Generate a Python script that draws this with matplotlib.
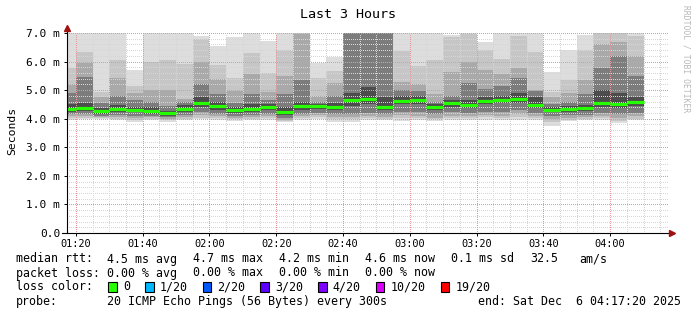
import matplotlib
matplotlib.use("Agg")
import matplotlib.pyplot as plt
import matplotlib.patches as patches
import numpy as np

W, H = 697, 315
MONO = "DejaVu Sans Mono"

# 5-minute steps, end time of each step in minutes after midnight (01:20 .. 04:10)
t_end = np.arange(80, 255, 5)
view_start, view_end = 77 + 20 / 60, 257 + 20 / 60   # 01:17:20 .. 04:17:20

median = [4.35, 4.38, 4.28, 4.35, 4.32, 4.28, 4.19, 4.35, 4.56, 4.43, 4.30, 4.35,
          4.40, 4.22, 4.43, 4.44, 4.40, 4.64, 4.68, 4.40, 4.63, 4.65, 4.40, 4.54,
          4.49, 4.61, 4.67, 4.70, 4.47, 4.32, 4.35, 4.37, 4.55, 4.50, 4.57]

# smoke bands (outer -> inner), upper and lower edge per step, in ms
u1 = [7.0, 7.0, 7.0, 7.0, 5.7, 7.0, 7.0, 7.0, 6.88, 6.53, 6.85, 7.0, 6.73, 7.0, 7.0, 5.94,
      6.17, 7.0, 7.0, 7.0, 7.0, 7.0, 7.0, 6.93, 7.0, 6.7, 7.0, 7.0, 7.0, 5.65, 6.4, 6.93,
      7.0, 7.0, 7.0]
u2 = [5.78, 6.35, 4.95, 6.07, 5.14, 6.0, 6.05, 5.9, 6.8, 5.88, 5.42, 6.3, 5.6, 6.42, 7.0,
      5.42, 5.66, 7.0, 7.0, 7.0, 6.37, 5.85, 6.05, 6.85, 6.95, 6.4, 6.1, 6.9, 6.35, 4.95,
      5.35, 6.4, 7.0, 7.0, 6.9]
u3 = [5.2, 5.95, 4.75, 5.42, 4.9, 5.0, 5.0, 4.7, 6.0, 5.4, 4.96, 5.55, 4.95, 5.48, 6.95,
      4.8, 5.25, 7.0, 7.0, 7.0, 5.3, 5.2, 4.85, 5.65, 6.0, 5.7, 5.55, 5.78, 5.0, 4.75, 4.9,
      5.35, 6.6, 6.7, 6.2]
u4 = [4.9, 5.45, 4.55, 4.8, 4.67, 4.6, 4.45, 4.6, 5.2, 4.85, 4.55, 4.85, 4.65, 4.85, 5.35,
      4.6, 4.78, 7.0, 7.0, 7.0, 5.0, 4.97, 4.6, 4.8, 5.25, 5.05, 5.15, 5.42, 4.98, 4.5,
      4.6, 4.85, 5.78, 6.2, 5.5]
u5 = [4.5, 4.55, 4.38, 4.47, 4.42, 4.4, 4.28, 4.47, 4.75, 4.6, 4.42, 4.5, 4.5, 4.4, 4.58,
      4.5, 4.55, 4.9, 5.1, 4.75, 4.8, 4.8, 4.5, 4.65, 4.65, 4.75, 4.8, 4.9, 4.75, 4.4, 4.45,
      4.48, 5.0, 4.9, 4.75]
l5 = [4.25, 4.27, 4.18, 4.24, 4.22, 4.18, 4.10, 4.25, 4.42, 4.32, 4.2, 4.24, 4.3, 4.12,
      4.32, 4.34, 4.3, 4.45, 4.5, 4.3, 4.5, 4.52, 4.3, 4.42, 4.38, 4.5, 4.55, 4.55, 4.36,
      4.22, 4.25, 4.27, 4.42, 4.38, 4.45]
l4 = [4.15, 4.15, 4.1, 4.12, 4.1, 4.1, 4.05, 4.12, 4.25, 4.18, 4.1, 4.12, 4.15, 4.02, 4.18,
      4.2, 4.15, 4.15, 4.2, 4.15, 4.25, 4.22, 4.15, 4.22, 4.2, 4.25, 4.25, 4.3, 4.2, 4.08,
      4.12, 4.12, 4.2, 4.15, 4.2]
l3 = [4.08, 4.08, 4.06, 4.05, 4.02, 4.05, 4.0, 4.06, 4.12, 4.1, 4.04, 4.05, 4.08, 3.97,
      4.1, 4.12, 4.05, 4.05, 4.1, 4.06, 4.12, 4.1, 4.04, 4.1, 4.08, 4.12, 4.1, 4.15, 4.1,
      3.98, 4.03, 4.05, 4.08, 4.02, 4.08]
l2 = [4.03, 4.02, 4.03, 4.0, 3.96, 4.0, 3.95, 4.0, 4.04, 4.03, 3.98, 4.0, 4.02, 3.93, 4.03,
      4.05, 3.98, 3.98, 4.03, 4.0, 4.02, 4.03, 3.98, 4.02, 4.02, 4.05, 4.02, 4.05, 4.03,
      3.88, 3.97, 4.0, 4.02, 3.93, 4.0]
l1 = [3.97, 3.98, 4.0, 3.96, 3.9, 3.95, 3.9, 3.95, 3.98, 3.97, 3.93, 3.94, 3.95, 3.87,
      3.97, 4.0, 3.9, 3.88, 3.95, 3.96, 3.93, 3.96, 3.92, 3.95, 3.95, 3.97, 3.94, 3.96,
      3.97, 3.76, 3.92, 3.95, 3.95, 3.85, 3.95]
band_colors = ["#dddddd", "#c6c6c6", "#a9a9a9", "#7c7c7c", "#4c4c4c"]

ytick_labels = ["0.0", "1.0 m", "2.0 m", "3.0 m", "4.0 m", "5.0 m", "6.0 m", "7.0 m"]
xtick_minutes = [80, 100, 120, 140, 160, 180, 200, 220, 240]
xtick_labels = ["01:20", "01:40", "02:00", "02:20", "02:40", "03:00", "03:20", "03:40", "04:00"]

stat_names = ["avg", "max", "min", "now"]
rtt_vals = [4.5, 4.7, 4.2, 4.6]
loss_vals = [0.00, 0.00, 0.00, 0.00]
rtt_sd = 0.1
am_s = 32.5
loss_labels = ["0", "1/20", "2/20", "3/20", "4/20", "10/20", "19/20"]
loss_colors = ["#26ff00", "#00b8ff", "#0059ff", "#5e00ff", "#7e00ff", "#dd00ff", "#ff0000"]
median_color = "#26ff00"


def fx(px):
    return px / W


def fy(py):
    return 1 - py / H


fig = plt.figure(figsize=(W / 100, H / 100), dpi=100)
ax = fig.add_axes([fx(67), fy(233), (668 - 67) / W, 200 / H])
ax.set_xlim(view_start, view_end)
ax.set_ylim(0, 7)
for s in ax.spines.values():
    s.set_visible(False)

# smoke
uppers = [u1, u2, u3, u4, u5]
lowers = [l1, l2, l3, l4, l5]
for lo, hi, col in zip(lowers, uppers, band_colors):
    lo = np.array(lo)
    hi = np.array(hi)
    ax.bar(t_end - 5, hi - lo, bottom=lo, width=5, align="edge", color=col,
           linewidth=0, antialiased=False, zorder=1)

# dotted grid, drawn over the smoke
minor_c, major_c = "#d6d6d6", "#e39999"
for y in np.arange(0.2, 7.01, 0.2):
    major = abs(y - round(y)) < 1e-6
    ax.axhline(y, color=major_c if major else minor_c, lw=0.72,
               ls=(0, (1, 2)), antialiased=False, zorder=3)
for x in range(80, 256, 5):
    major = x % 20 == 0
    ax.axvline(x, color=major_c if major else minor_c, lw=0.72,
               ls=(0, (1, 2)), antialiased=False, zorder=3)

# median
ax.hlines(median, t_end - 5, t_end, colors=median_color, lw=2.3, zorder=5)

# axis lines with arrows
ax.plot([0, 0], [0, 1.025], transform=ax.transAxes, color="black", lw=0.8,
        clip_on=False, zorder=6)
ax.plot([0], [1.025], transform=ax.transAxes, marker="^", color="#a01010", ms=4,
        clip_on=False, zorder=7)
ax.plot([-5 / 601, 1.0], [0, 0], transform=ax.transAxes, color="black", lw=0.8,
        clip_on=False, zorder=6)
ax.plot([1.006], [0], transform=ax.transAxes, marker=">", color="#a01010", ms=4,
        clip_on=False, zorder=7)

ax.set_yticks(range(8))
ax.set_yticklabels(ytick_labels, family=MONO, fontsize=8)
ax.set_xticks(xtick_minutes)
ax.set_xticklabels(xtick_labels, family=MONO, fontsize=7.4)
ax.tick_params(axis="y", length=2, width=0.7, pad=3, colors="black")
ax.tick_params(axis="x", length=2, width=0.7, pad=2, colors="black")

fig.text(fx(12), fy(131), "Seconds", rotation=90, ha="center", va="center",
         family=MONO, fontsize=8.2)
fig.text(fx(348), fy(14), "Last 3 Hours", ha="center", va="center",
         family=MONO, fontsize=9.6)
fig.text(fx(686), fy(59), "RRDTOOL / TOBI OETIKER", rotation=270, ha="center",
         va="center", family=MONO, fontsize=5.8, color="#b8b8b8")

# legend
fs = 8.4
col_x = [107.3, 193.3, 279.3, 365.3, 451.3]
rows_y = [259, 273, 287, 301.5]

fig.text(fx(16), fy(rows_y[0]), "median rtt:", family=MONO, fontsize=fs, va="center")
for i, (name, v) in enumerate(zip(stat_names, rtt_vals)):
    fig.text(fx(col_x[i]), fy(rows_y[0]), f"{v:.1f} ms {name}", family=MONO,
             fontsize=fs, va="center")
fig.text(fx(col_x[4]), fy(rows_y[0]), f"{rtt_sd:.1f} ms sd", family=MONO,
         fontsize=fs, va="center")
fig.text(fx(530), fy(rows_y[0]), f"{am_s:.1f}", family=MONO, fontsize=fs, va="center")
fig.text(fx(579), fy(rows_y[0]), "am/s", family=MONO, fontsize=fs, va="center")

fig.text(fx(16), fy(rows_y[1]), "packet loss:", family=MONO, fontsize=fs, va="center")
for i, (name, v) in enumerate(zip(stat_names, loss_vals)):
    fig.text(fx(col_x[i]), fy(rows_y[1]), f"{v:.2f} % {name}", family=MONO,
             fontsize=fs, va="center")

fig.text(fx(16), fy(rows_y[2]), "loss color:", family=MONO, fontsize=fs, va="center")
cx = 108.3
for lab, col in zip(loss_labels, loss_colors):
    fig.add_artist(patches.Rectangle((fx(cx), fy(291.5)), 8.5 / W, 10 / H,
                                     transform=fig.transFigure, facecolor=col,
                                     edgecolor="black", lw=0.8))
    tx = cx + 14.7
    fig.text(fx(tx), fy(rows_y[2]), lab, family=MONO, fontsize=fs, va="center")
    cx = tx + 7 * len(lab) + 15

fig.text(fx(16), fy(rows_y[3]), "probe:", family=MONO, fontsize=fs, va="center")
fig.text(fx(107.3), fy(rows_y[3]), "20 ICMP Echo Pings (56 Bytes) every 300s",
         family=MONO, fontsize=fs, va="center")
fig.text(fx(478.3), fy(rows_y[3]), "end: Sat Dec  6 04:17:20 2025",
         family=MONO, fontsize=fs, va="center")

fig.savefig("out.png", dpi=100, facecolor="white")
